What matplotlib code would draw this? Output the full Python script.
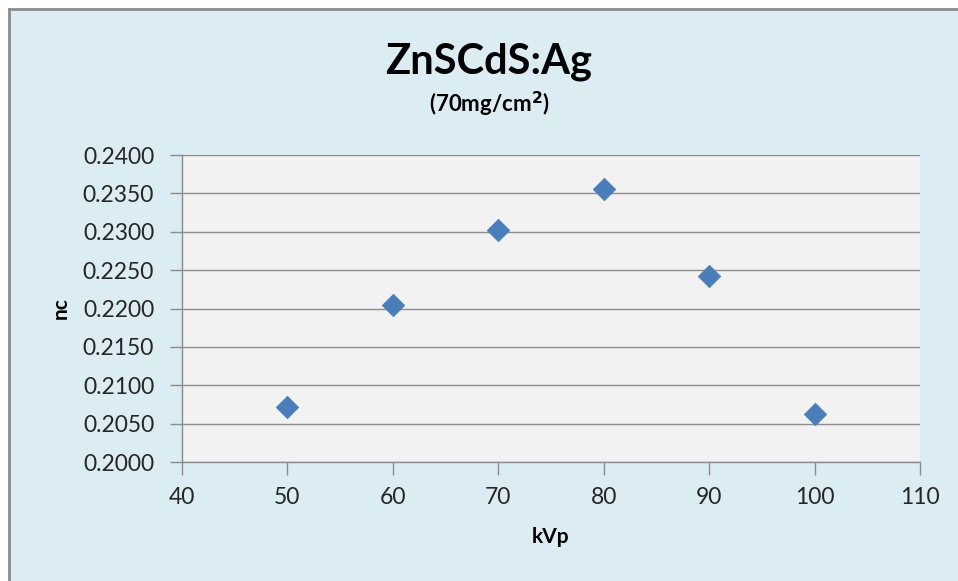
import matplotlib
matplotlib.use("Agg")
import matplotlib.pyplot as plt
from matplotlib.patches import Rectangle
from matplotlib.lines import Line2D

# Data
kvp = [50, 60, 70, 80, 90, 100]
nc = [0.2072, 0.2205, 0.2302, 0.2356, 0.2242, 0.2062]
x_ticks = [40, 50, 60, 70, 80, 90, 100, 110]
y_ticks = [0.2000, 0.2050, 0.2100, 0.2150, 0.2200, 0.2250, 0.2300, 0.2350, 0.2400]

plt.rcParams['font.family'] = ['Lato', 'DejaVu Sans']

W, H = 958, 581
fig = plt.figure(figsize=(W / 100, H / 100), dpi=100)
fig.patch.set_facecolor('#DBEDF3')

# White margin above and left of the chart panel
fig.patches.append(Rectangle((0, 1 - 8 / H), 1, 8 / H, transform=fig.transFigure,
                             facecolor='white', edgecolor='none', zorder=-10))
fig.patches.append(Rectangle((0, 0), 8 / W, 1, transform=fig.transFigure,
                             facecolor='white', edgecolor='none', zorder=-10))
# Grey frame of the chart panel (top and left edges)
fig.lines.append(Line2D([8.5 / W, 1], [1 - 8.5 / H, 1 - 8.5 / H], transform=fig.transFigure,
                        color='#8C8C8C', linewidth=2.0, zorder=-9))
fig.lines.append(Line2D([8.5 / W, 8.5 / W], [0, 1 - 8.5 / H], transform=fig.transFigure,
                        color='#8C8C8C', linewidth=2.0, zorder=-9))

ax = fig.add_axes([182 / W, 1 - 462 / H, (920 - 182) / W, (462 - 155) / H])
ax.set_zorder(1)
ax.set_facecolor('#F2F2F2')

ax.scatter(kvp, nc, marker='D', s=11.5 ** 2, color='#4A7EBB', edgecolor='#4A7EBB',
           linewidth=0.5, zorder=3, clip_on=False)

ax.set_xlim(40, 110)
ax.set_ylim(0.2000, 0.2400)
ax.set_xticks(x_ticks)
ax.set_xticklabels([str(v) for v in x_ticks])
ax.set_yticks(y_ticks)
ax.set_yticklabels([f"{v:.4f}" for v in y_ticks])

ax.grid(axis='y', color='#8C8C8C', linewidth=1.0)
ax.set_axisbelow(True)
for side in ('top', 'right'):
    ax.spines[side].set_visible(False)
for side in ('left', 'bottom'):
    ax.spines[side].set_color('#8C8C8C')
    ax.spines[side].set_linewidth(1.0)

ax.tick_params(axis='both', colors='#8C8C8C', length=9, width=1.0, labelsize=16.5,
               labelcolor='#262626', direction='out')
ax.tick_params(axis='x', pad=9)
ax.tick_params(axis='y', pad=11)

ax.set_xlabel('kVp', fontsize=15, fontweight='bold', color='#000000', labelpad=14)
ax.set_ylabel('nc', fontsize=15, fontweight='bold', color='#000000', labelpad=9)

fig.text(489 / W, 1 - 62 / H, 'ZnSCdS:Ag', ha='center', va='center',
         fontsize=30, fontweight='bold', color='#000000')
fig.text(489 / W, 1 - 104 / H, r'(70mg/cm$^{\mathbf{2}}$)', ha='center', va='center',
         fontsize=16, fontweight='bold', color='#000000')

fig.savefig('out.png', dpi=100, facecolor=fig.get_facecolor())
